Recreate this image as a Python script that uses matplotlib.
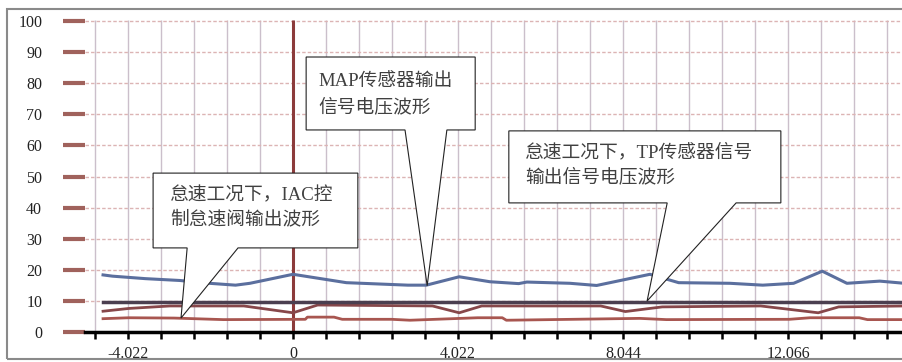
import matplotlib as mpl
mpl.use('Agg')
import matplotlib.pyplot as plt
from matplotlib.patches import Polygon, Rectangle
import numpy as np

plt.rcParams['font.family'] = ['Liberation Serif', 'Noto Sans CJK SC']

# waveform traces (time, value)
map_t = [-4.63, -4.4, -3.6, -2.75, -2.25, -1.4, -1.05, 0.0, 1.3, 2.8, 3.25, 4.05,
         4.8, 5.5, 5.7, 6.75, 7.4, 8.7, 9.4, 10.65, 11.45, 12.2, 12.9, 13.5, 14.3, 14.9]
map_v = [18.3, 17.9, 17.1, 16.5, 15.8, 15.0, 15.6, 18.5, 15.8, 15.0, 15.0, 17.7,
         16.1, 15.5, 16.0, 15.6, 14.9, 18.5, 15.8, 15.6, 15.0, 15.6, 19.5, 15.6, 16.3, 15.6]

tp_t = [-4.63, 14.9]
tp_v = [9.6, 9.6]

iac_t = [-4.63, -4.0, -3.0, -1.2, 0.0, 0.6, 3.4, 4.05, 4.6, 7.5, 8.1, 9.0,
         11.4, 12.8, 13.3, 14.9]
iac_v = [6.6, 7.5, 8.3, 8.3, 6.1, 8.6, 8.3, 6.1, 8.3, 8.3, 6.5, 8.0,
         8.3, 6.1, 8.0, 8.3]

low_t = [-4.63, -4.0, -2.9, -1.7, 0.3, 0.35, 1.0, 1.2, 2.4, 2.85, 4.5, 5.1,
         5.2, 8.45, 9.1, 12.1, 12.6, 13.8, 14.0, 14.9]
low_v = [4.2, 4.5, 4.4, 3.9, 4.0, 4.7, 4.7, 4.0, 4.0, 3.7, 4.5, 4.5,
         3.7, 4.3, 3.9, 4.0, 4.5, 4.5, 3.9, 3.9]

x_major = [-4.022, 0, 4.022, 8.044, 12.066]
x_labels = ['-4.022', '0', '4.022', '8.044', '12.066']
y_ticks = list(range(0, 101, 10))
step = 0.8044

iac_text = '怠速工况下，IAC控\n制怠速阀输出波形'
map_text = 'MAP传感器输出\n信号电压波形'
tp_text = '怠速工况下，TP传感器信号\n输出信号电压波形'

fig = plt.figure(figsize=(9.03, 3.62), dpi=100)
ax = fig.add_axes([63 / 903, 7 / 362, 840 / 903, 343 / 362])
xmin, xmax = -5.606, 14.867
ax.set_xlim(xmin, xmax)
ax.set_ylim(-7.5, 103)

# grid
grid_x = np.arange(-6, 19) * step
ax.vlines(grid_x, 0, 100.5, color='#cbbfcb', lw=1, zorder=0)
ax.hlines(y_ticks[1:], -5.07, xmax, color='#dcb4b4', lw=1,
          linestyles=(0, (2.5, 1.5)), zorder=0)
ax.vlines(0, 0, 100.5, color='#8c3b3b', lw=2.2, zorder=1)

# traces
ax.plot(map_t, map_v, color='#5b6f9e', lw=2.2, zorder=3)
ax.plot(low_t, low_v, color='#a85650', lw=2.0, zorder=3)
ax.plot(iac_t, iac_v, color='#87474a', lw=2.0, zorder=3)
ax.plot(tp_t, tp_v, color='#4b3f50', lw=2.5, zorder=3)

# axes styling
for s in ['top', 'right', 'left']:
    ax.spines[s].set_visible(False)
ax.spines['bottom'].set_position(('data', 0))
ax.spines['bottom'].set_bounds(-5.07, xmax)
ax.spines['bottom'].set_linewidth(2.5)
ax.set_xticks(x_major, x_labels)
ax.set_xticks(grid_x, minor=True)
ax.tick_params(axis='x', which='both', direction='out', length=5, width=1.8,
               color='black', labelsize=11.5, pad=5, labelcolor='#222222')
ax.set_yticks(y_ticks)
ax.tick_params(axis='y', direction='in', length=15.8, width=3,
               color='#a0625c', labelsize=11.5, pad=15, labelcolor='#222222')
ax.patch.set_visible(False)


def callout(box, base, tip, text, text_xy):
    x0, x1, y0, y1 = box
    pts = [(x0, y1), (x1, y1), (x1, y0), (base[1], y0), tip, (base[0], y0), (x0, y0)]
    ax.add_patch(Polygon(pts, closed=True, fc='white', ec='#222222', lw=0.8,
                         zorder=5, clip_on=False))
    ax.text(text_xy[0], text_xy[1], text, fontsize=13.5, color='#404040',
            va='center', ha='left', linespacing=1.5, zorder=6)


callout((-3.41, 1.58, 27.0, 51.1), (-2.58, -1.34), (-2.73, 4.4), iac_text, (-3.0, 40.0))
callout((0.32, 4.44, 65.0, 88.5), (2.73, 3.75), (3.27, 14.8), map_text, (0.61, 76.2))
callout((5.26, 11.89, 41.5, 64.7), (9.12, 10.80), (8.63, 9.9), tp_text, (5.65, 53.7))

# outer frame
fig.patches.append(Rectangle((7 / 903, 3 / 362), 0.999, 350 / 362,
                             transform=fig.transFigure, fill=False,
                             ec='#8a8a8a', lw=1.5))

fig.savefig('out.png', dpi=100)
